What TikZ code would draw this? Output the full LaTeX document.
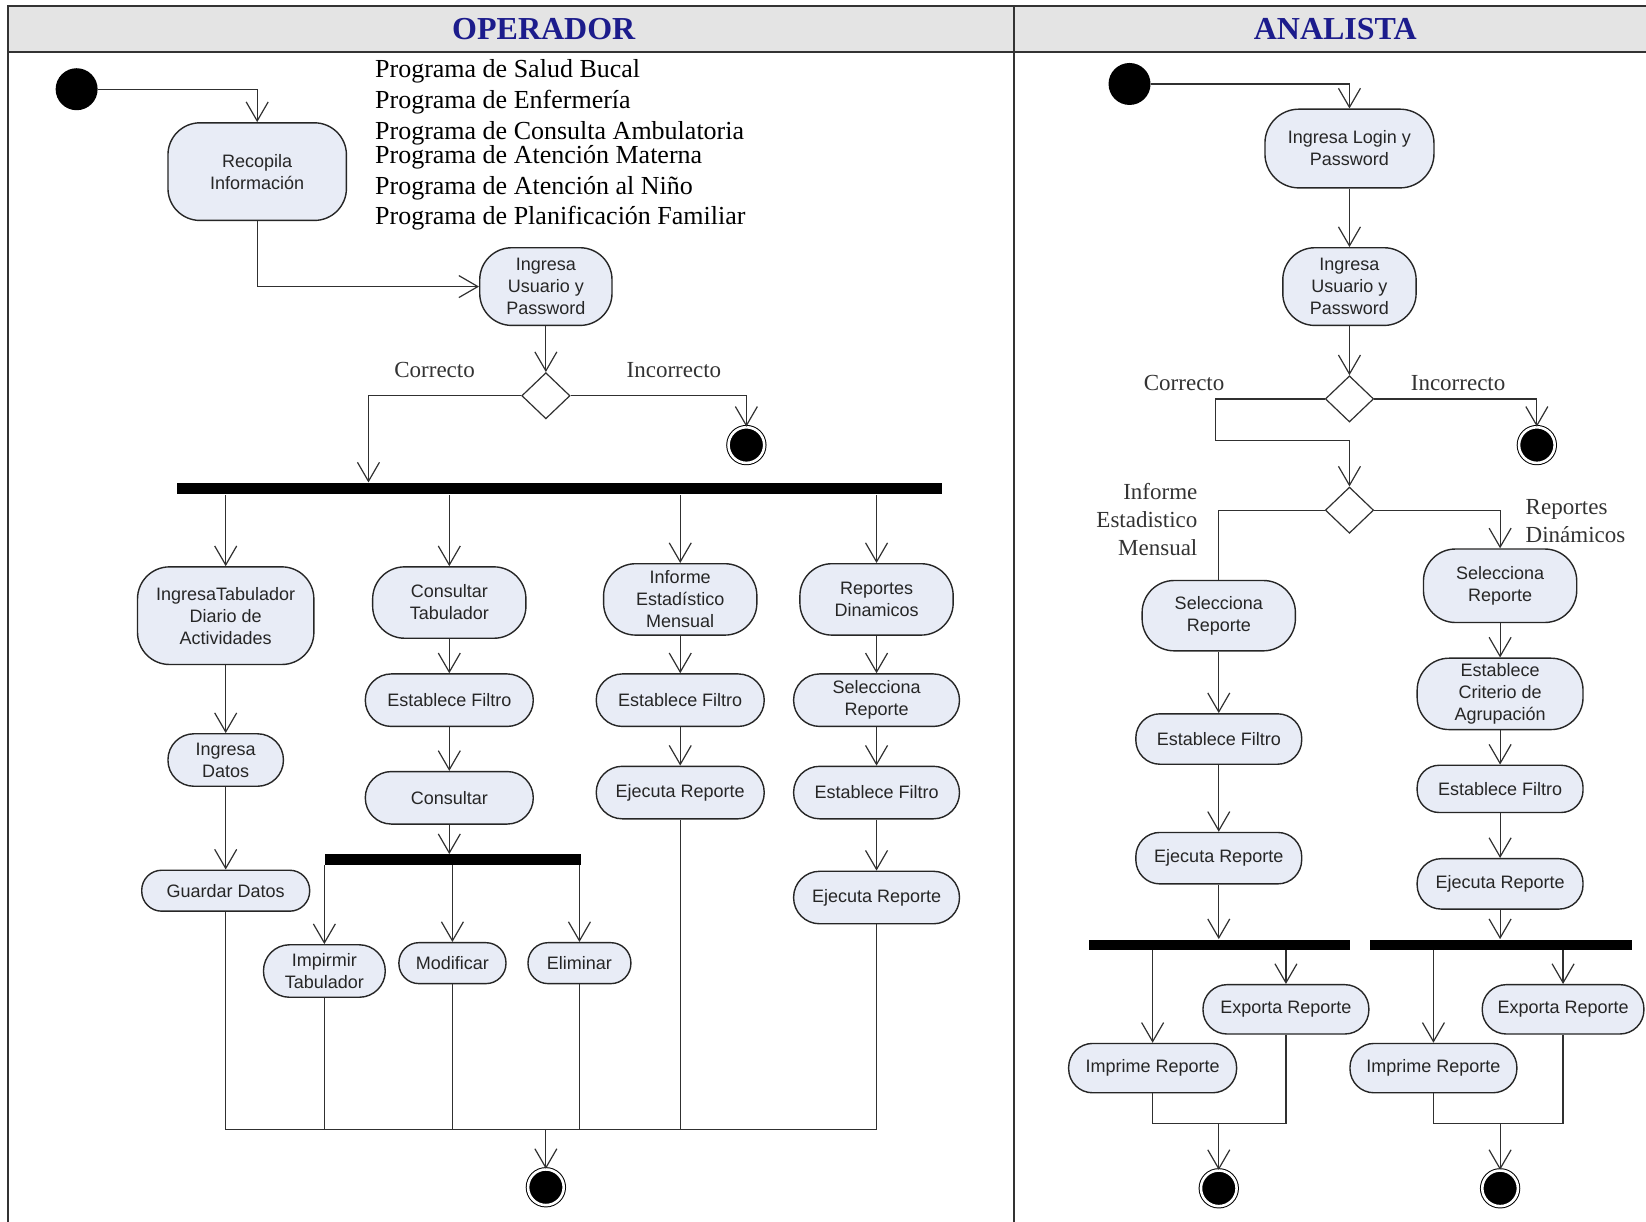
\documentclass[tikz,border=0pt]{standalone}
\usepackage{fontspec}
\setmainfont{Liberation Serif}
\setsansfont{Liberation Sans}
\usetikzlibrary{arrows.meta,shapes.geometric,calc}
\definecolor{boxfill}{HTML}{E8ECF6}
\definecolor{hdrfill}{HTML}{E4E4E4}
\definecolor{hdrtext}{HTML}{1C1C8C}
\definecolor{lncol}{HTML}{303030}
\newcommand\act[7]{\node[act, rounded corners=#7, minimum width={(#4-#2)*0.5249pt}, minimum height={(#5-#3)*0.5249pt}] (#1) at ({(#2+#4)/2},{(#3+#5)/2}) {#6};}
\newcommand\barn[5]{\node[barshape, minimum width={(#4-#2)*0.5249pt}, minimum height={(#5-#3)*0.5249pt}] (#1) at ({(#2+#4)/2},{(#3+#5)/2}) {};}
\begin{document}
\begin{tikzpicture}[x=0.5249pt,y=-0.5249pt,
  act/.style={draw=black!85, fill=boxfill, line width=0.7pt, font=\sffamily\fontsize{9}{11}\selectfont, align=center, inner sep=0pt, text=black!85},
  arr/.style={draw=lncol, line width=0.6pt, -{Straight Barb[length=9.5pt,width=11pt]}},
  lnk/.style={draw=lncol, line width=0.6pt},
  barshape/.style={rectangle, fill=black, inner sep=0pt},
  dec/.style={diamond, draw=lncol, fill=white, line width=0.6pt, inner sep=0pt, minimum width=46*0.5249pt, minimum height=44*0.5249pt},
  ini/.style={circle, fill=black, inner sep=0pt, minimum size=40*0.5249pt},
  fin/.style={circle, draw=black, fill=black, double=white, double distance=1.3pt, line width=0.5pt, inner sep=0pt, minimum size=34*0.5249pt},
  hdr/.style={font=\bfseries\fontsize{16}{18}\selectfont, text=hdrtext},
  lbl/.style={font=\fontsize{11.5}{14}\selectfont, text=black!80, inner sep=0pt},
  prog/.style={font=\fontsize{13}{15}\selectfont, anchor=west, inner sep=0pt}
]
\useasboundingbox (0,0) rectangle (1568,1164);
% lanes
\fill[white] (0,0) rectangle (1568,1164);
\fill[hdrfill] (8,6) rectangle (1568,50);
\draw[line width=1pt, black!80] (1568,6) -- (8,6) -- (8,1164);
\draw[line width=1pt, black!80] (8,50) -- (1568,50);
\draw[line width=1pt, black!80] (966,6) -- (966,1164);
\node[hdr] (h1) at (518,28) {OPERADOR};
\node[hdr] (h2) at (1272,28) {ANALISTA};

% ===== OPERADOR =====
\node[ini] (s1) at (73,85) {};
\act{rec}{160}{117}{330}{210}{Recopila\\Información}{16pt}
\node[prog] (p1) at (357,68) {Programa de Salud Bucal};
\node[prog] (p2) at (357,97) {Programa de Enfermería};
\node[prog] (p3) at (357,127) {Programa de Consulta Ambulatoria};
\node[prog] (p4) at (357,150) {Programa de Atención Materna};
\node[prog] (p5) at (357,179) {Programa de Atención al Niño};
\node[prog] (p6) at (357,208) {Programa de Planificación Familiar};
\act{ing1}{457}{236}{583}{310}{Ingresa\\Usuario y\\Password}{16pt}
\node[dec] (d1) at (520,377) {};
\node[fin] (f1) at (711,424) {};
\barn{b1}{169}{460}{897}{471}
\coordinate (c1) at (351,0);
\node[lbl] (l1) at (414,352) {Correcto};
\node[lbl] (l2) at (642,353) {Incorrecto};
\draw[arr] (s1) -| (rec);
\draw[arr] (rec) |- (ing1);
\draw[arr] (ing1) -- (d1);
\draw[arr] (d1) -| (b1.north -| c1);
\draw[arr] (d1) -| (f1);

\act{it}{131}{540}{299}{633}{IngresaTabulador\\Diario de\\Actividades}{16pt}
\act{ct}{355}{540}{501}{608}{Consultar\\Tabulador}{16pt}
\act{ie}{575}{537}{721}{605}{Informe\\Estadístico\\Mensual}{16pt}
\act{rd}{762}{537}{908}{605}{Reportes\\Dinamicos}{16pt}
\draw[arr] (b1.south -| it) -- (it);
\draw[arr] (b1.south -| ct) -- (ct);
\draw[arr] (b1.south -| ie) -- (ie);
\draw[arr] (b1.south -| rd) -- (rd);

\act{id}{160}{699}{270}{749}{Ingresa\\Datos}{13pt}
\act{gd}{135}{829}{295}{868}{Guardar Datos}{10pt}
\draw[arr] (it) -- (id);
\draw[arr] (id) -- (gd);

\act{ef1}{348}{642}{508}{692}{Establece Filtro}{13pt}
\act{co}{348}{735}{508}{785}{Consultar}{13pt}
\barn{b2}{310}{814}{553}{824}
\act{imp}{251}{900}{367}{950}{Impirmir\\Tabulador}{13pt}
\act{mod}{380}{898}{482}{937}{Modificar}{10pt}
\act{eli}{503}{898}{601}{937}{Eliminar}{10pt}
\draw[arr] (ct) -- (ef1);
\draw[arr] (ef1) -- (co);
\draw[arr] (co) -- (co.south |- b2.north);
\draw[arr] (b2.south -| imp) -- (imp);
\draw[arr] (b2.south -| mod) -- (mod);
\draw[arr] (b2.south -| eli) -- (eli);

\act{ef2}{568}{642}{728}{692}{Establece Filtro}{13pt}
\act{ej1}{568}{730}{728}{780}{Ejecuta Reporte}{13pt}
\draw[arr] (ie) -- (ef2);
\draw[arr] (ef2) -- (ej1);

\act{sr1}{756}{642}{914}{692}{Selecciona\\Reporte}{13pt}
\act{ef3}{756}{730}{914}{780}{Establece Filtro}{13pt}
\act{ej2}{756}{830}{914}{880}{Ejecuta Reporte}{13pt}
\draw[arr] (rd) -- (sr1);
\draw[arr] (sr1) -- (ef3);
\draw[arr] (ef3) -- (ej2);

\coordinate (m1) at (520,1076);
\node[fin] (f2) at (520,1131) {};
\draw[lnk] (gd) |- (m1);
\draw[lnk] (imp) |- (m1);
\draw[lnk] (mod) |- (m1);
\draw[lnk] (eli) |- (m1);
\draw[lnk] (ej1) |- (m1);
\draw[lnk] (ej2) |- (m1);
\draw[arr] (m1) -- (f2);

% ===== ANALISTA =====
\node[ini] (s2) at (1076,80) {};
\act{il}{1205}{104}{1366}{179}{Ingresa Login y\\Password}{17pt}
\act{iu}{1222}{236}{1349}{310}{Ingresa\\Usuario y\\Password}{16pt}
\node[dec] (d2) at (1285.5,380) {};
\node[fin] (f3) at (1464,424) {};
\node[dec] (d3) at (1285.5,486) {};
\coordinate (k1) at (1158,420);
\node[lbl] (l3) at (1128,365) {Correcto};
\node[lbl] (l4) at (1389,365) {Incorrecto};
\node[lbl, anchor=east, align=right, font=\fontsize{11.5}{14}\selectfont] (l5) at (1141,495) {Informe\\Estadistico\\Mensual};
\node[lbl, anchor=west, align=left, font=\fontsize{11.5}{14}\selectfont] (l6) at (1453,496) {Reportes\\Dinámicos};
\draw[arr] (s2) -| (il);
\draw[arr] (il) -- (iu);
\draw[arr] (iu) -- (d2);
\draw[arr] (d2) -| (f3);
\draw[arr] (d2) -| (k1) -| (d3);

\act{sr2}{1088}{553}{1234}{620}{Selecciona\\Reporte}{16pt}
\act{sr3}{1356}{523}{1502}{593}{Selecciona\\Reporte}{16pt}
\draw[lnk] (d3) -| (sr2);
\draw[arr] (d3) -| (sr3);

\act{ef4}{1082}{680}{1240}{728}{Establece Filtro}{12pt}
\act{ej3}{1082}{793}{1240}{842}{Ejecuta Reporte}{12pt}
\barn{b3}{1037}{895}{1286}{905}
\act{ex1}{1146}{938}{1304}{985}{Exporta Reporte}{12pt}
\act{ip1}{1018}{994}{1178}{1041}{Imprime Reporte}{12pt}
\draw[arr] (sr2) -- (ef4);
\draw[arr] (ef4) -- (ej3);
\draw[arr] (ej3) -- (ej3.south |- b3.north);
\draw[arr] (b3.south -| ip1) -- (ip1);
\draw[arr] (b3.south -| ex1) -- (ex1);
\coordinate (m2) at (1161,1070);
\node[fin] (f4) at (1161,1132) {};
\draw[lnk] (ip1) |- (m2);
\draw[lnk] (ex1) |- (m2);
\draw[arr] (m2) -- (f4);

\act{ec}{1350}{627}{1508}{695}{Establece\\Criterio de\\Agrupación}{16pt}
\act{ef5}{1350}{729}{1508}{774}{Establece Filtro}{11pt}
\act{ej4}{1350}{818}{1508}{866}{Ejecuta Reporte}{12pt}
\barn{b4}{1305}{895}{1555}{905}
\act{ex2}{1412}{938}{1566}{985}{Exporta Reporte}{12pt}
\act{ip2}{1286}{994}{1445}{1041}{Imprime Reporte}{12pt}
\draw[arr] (sr3) -- (ec);
\draw[arr] (ec) -- (ef5);
\draw[arr] (ef5) -- (ej4);
\draw[arr] (ej4) -- (ej4.south |- b4.north);
\draw[arr] (b4.south -| ip2) -- (ip2);
\draw[arr] (b4.south -| ex2) -- (ex2);
\coordinate (m3) at (1429,1070);
\node[fin] (f5) at (1429,1132) {};
\draw[lnk] (ip2) |- (m3);
\draw[lnk] (ex2) |- (m3);
\draw[arr] (m3) -- (f5);
\end{tikzpicture}
\end{document}
